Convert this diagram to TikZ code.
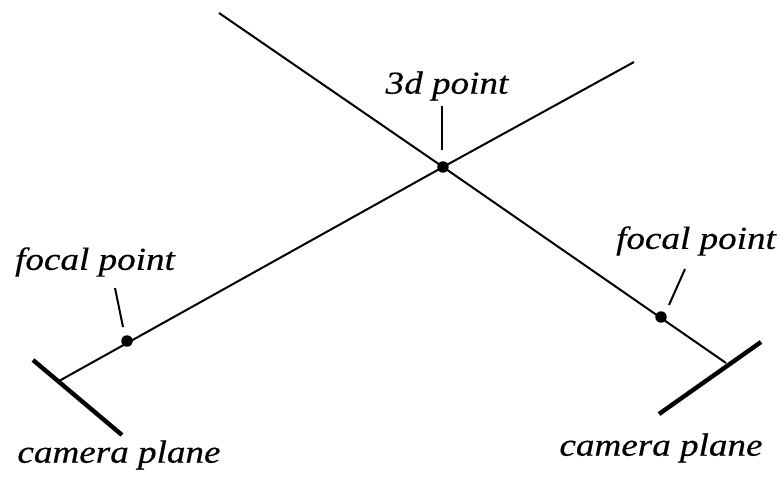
\documentclass[tikz,border=0pt]{standalone}
\usepackage{fontspec}
\setmainfont{Liberation Serif}[ItalicFeatures={FakeStretch=1.16,FakeBold=0.4}]
\tikzset{
  ray/.style={line width=1.5pt,black},
  plane/.style={line width=3.3pt,black},
  tick/.style={line width=1.5pt,black},
  lbl/.style={inner sep=0pt,font=\fontsize{24}{28}\selectfont\itshape,text=black},
  dot/.style={circle,fill=black,inner sep=0pt,minimum size=8.6pt}
}
\begin{document}
\begin{tikzpicture}
\useasboundingbox (0,0) rectangle (585pt,-357.75pt);
\begin{scope}[x=0.75pt,y=-0.75pt]
\coordinate (raytl) at (219,13);
\coordinate (raytr) at (634,62);
\coordinate (camL) at (59,381);
\coordinate (camR) at (726,363);
\coordinate (pla) at (33,360);
\coordinate (plb) at (122,435);
\coordinate (plc) at (659,414);
\coordinate (pld) at (761,342);
\node[dot] (p3d) at (443,167) {};
\node[dot] (fl) at (127,341) {};
\node[dot] (fr) at (661,317) {};
\node[lbl] (t3d) at (447,86) {3d point};
\node[lbl] (tfl) at (95,262) {focal point};
\node[lbl] (tfr) at (696,241) {focal point};
\node[lbl] (tcl) at (119,455) {camera plane};
\node[lbl] (tcr) at (661,448) {camera plane};
\coordinate (a1) at (442,106);
\coordinate (a2) at (442,150);
\coordinate (b1) at (115,288);
\coordinate (b2) at (123,327);
\coordinate (c1) at (685,269);
\coordinate (c2) at (669,305);
\draw[ray] (raytl) -- (p3d.center) -- (camR);
\draw[ray] (raytr) -- (p3d.center) -- (camL);
\draw[plane] (pla) -- (plb);
\draw[plane] (plc) -- (pld);
\draw[tick] (a1) -- (a2);
\draw[tick] (b1) -- (b2);
\draw[tick] (c1) -- (c2);
\end{scope}
\end{tikzpicture}
\end{document}
